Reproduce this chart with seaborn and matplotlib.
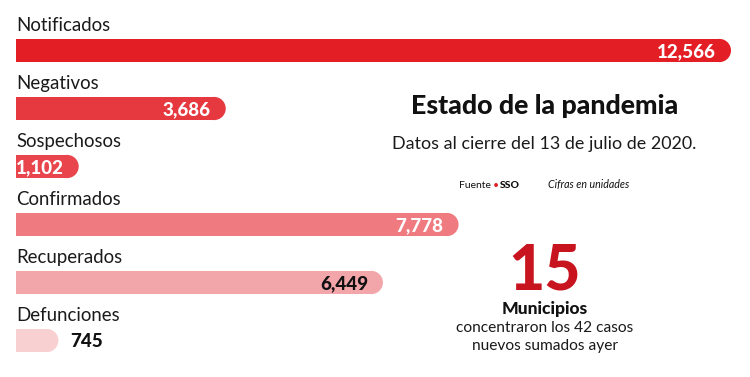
import matplotlib
matplotlib.use("Agg")
import matplotlib.pyplot as plt
from matplotlib.patches import Ellipse
import seaborn as sns
import pandas as pd

categorias = ["Notificados", "Negativos", "Sospechosos", "Confirmados", "Recuperados", "Defunciones"]
valores = [12566, 3686, 1102, 7778, 6449, 745]
etiquetas = ["12,566", "3,686", "1,102", "7,778", "6,449", "745"]
colores = ["#E31E24", "#E6393F", "#E8464C", "#EF7B80", "#F3A6A9", "#F9D0D2"]
colores_texto = ["white", "white", "white", "white", "#111111", "#111111"]

W, H = 750, 377
x0_px, scale = 16, 715 / 12566.0   # pixel mapping
row0_px, row_step = 50.5, 58.0
bar_h = 0.40

sns.set_theme(style="white")
plt.rcParams["font.family"] = ["Lato", "DejaVu Sans"]

df = pd.DataFrame({"cat": categorias, "val": valores})
fig = plt.figure(figsize=(W / 100, H / 100), dpi=100)
ax = fig.add_axes([0, 0, 1, 1])
sns.barplot(data=df, y="cat", x="val", hue="cat", palette=colores, orient="h",
            width=bar_h, legend=False, ax=ax, saturation=1, edgecolor="none")

ax.set_xlim(-x0_px / scale, (W - x0_px) / scale)
ax.set_ylim((H - row0_px) / row_step, -row0_px / row_step)
ax.axis("off")

rx = (bar_h * row_step / 2) / scale
for i, p in enumerate(ax.patches[:len(valores)]):
    v = valores[i]
    y = p.get_y() + p.get_height() / 2
    p.set_width(v - rx)
    ax.add_patch(Ellipse((v - rx, y), 2 * rx, p.get_height(), facecolor=colores[i],
                         edgecolor="none", zorder=p.get_zorder()))

for i, (c, v, lab) in enumerate(zip(categorias, valores, etiquetas)):
    ax.text(0, i - bar_h / 2 - 8 / row_step, c, fontsize=13.4, color="#1a1a1a",
            va="baseline", ha="left")
    if i == len(valores) - 1:
        ax.text(v + 12 / scale, i + 0.12, lab, fontsize=13.5, fontweight="black",
                color=colores_texto[i], ha="left", va="baseline")
    else:
        ax.text(v - 15 / scale, i + 0.12, lab, fontsize=13.5, fontweight="black",
                color=colores_texto[i], ha="right", va="baseline")

def ft(x, y, s, **kw):
    fig.text(x / W, 1 - y / H, s, **kw)

ft(545, 114, "Estado de la pandemia", fontsize=19.3, fontweight="black", ha="center", va="baseline", color="#111111")
ft(544, 149, "Datos al cierre del 13 de julio de 2020.", fontsize=12.9, ha="center", va="baseline", color="#1a1a1a")
ft(459, 188, "Fuente", fontsize=7.5, ha="left", va="baseline", color="#111111")
ft(496, 188, "•", fontsize=7.5, ha="center", va="baseline", color="#E31E24")
ft(500, 188, "SSO", fontsize=7.5, fontweight="black", ha="left", va="baseline", color="#111111")
ft(548, 188, "Cifras en unidades", fontsize=7.7, style="italic", ha="left", va="baseline", color="#111111")
ft(545, 290, "15", fontsize=45, fontweight="black", ha="center", va="baseline", color="#C8141F")
ft(545, 314, "Municipios", fontsize=12.6, fontweight="black", ha="center", va="baseline", color="#111111")
ft(545, 332, "concentraron los 42 casos", fontsize=11.2, ha="center", va="baseline", color="#1a1a1a")
ft(545, 350, "nuevos sumados ayer", fontsize=11.2, ha="center", va="baseline", color="#1a1a1a")

fig.savefig("out.png", dpi=100, facecolor="white")
